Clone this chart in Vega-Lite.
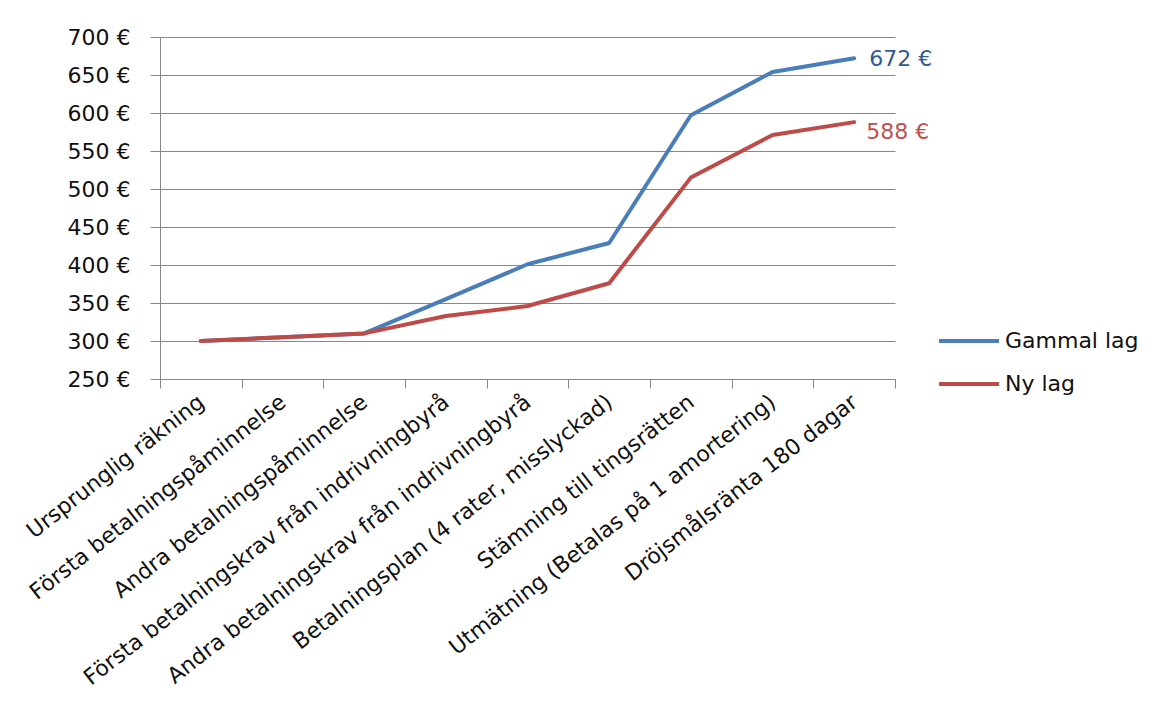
{
  "$schema": "https://vega.github.io/schema/vega-lite/v6.json",
  "autosize": {"type": "none"},
  "width": 735,
  "height": 342,
  "padding": {"left": 160, "top": 37, "right": 273, "bottom": 330},
  "background": "white",
  "config": {
    "view": {"stroke": null},
    "font": "DejaVu Sans",
    "axis": {"labelFont": "DejaVu Sans", "labelColor": "#111", "domainColor": "#888", "tickColor": "#888", "gridColor": "#888", "domainWidth": 1, "tickWidth": 1, "gridWidth": 1}
  },
  "data": {
    "values": [
      {"step": "Ursprunglig räkning", "lag": "Gammal lag", "value": 300},
      {"step": "Första betalningspåminnelse", "lag": "Gammal lag", "value": 305},
      {"step": "Andra betalningspåminnelse", "lag": "Gammal lag", "value": 310},
      {"step": "Första betalningskrav från indrivningbyrå", "lag": "Gammal lag", "value": 355},
      {"step": "Andra betalningskrav från indrivningbyrå", "lag": "Gammal lag", "value": 401},
      {"step": "Betalningsplan (4 rater, misslyckad)", "lag": "Gammal lag", "value": 429},
      {"step": "Stämning till tingsrätten", "lag": "Gammal lag", "value": 597},
      {"step": "Utmätning (Betalas på 1 amortering)", "lag": "Gammal lag", "value": 654},
      {"step": "Dröjsmålsränta 180 dagar", "lag": "Gammal lag", "value": 672},
      {"step": "Ursprunglig räkning", "lag": "Ny lag", "value": 300},
      {"step": "Första betalningspåminnelse", "lag": "Ny lag", "value": 305},
      {"step": "Andra betalningspåminnelse", "lag": "Ny lag", "value": 310},
      {"step": "Första betalningskrav från indrivningbyrå", "lag": "Ny lag", "value": 333},
      {"step": "Andra betalningskrav från indrivningbyrå", "lag": "Ny lag", "value": 346},
      {"step": "Betalningsplan (4 rater, misslyckad)", "lag": "Ny lag", "value": 376},
      {"step": "Stämning till tingsrätten", "lag": "Ny lag", "value": 515},
      {"step": "Utmätning (Betalas på 1 amortering)", "lag": "Ny lag", "value": 571},
      {"step": "Dröjsmålsränta 180 dagar", "lag": "Ny lag", "value": 588}
    ]
  },
  "encoding": {
    "x": {
      "field": "step", "type": "nominal", "sort": null, "title": null,
      "axis": {"labelAngle": -38, "labelAlign": "right", "labelBaseline": "middle", "labelFontSize": 22, "labelPadding": 11, "tickSize": 9, "tickBand": "extent", "labelLimit": 600, "grid": false}
    },
    "y": {
      "field": "value", "type": "quantitative", "title": null,
      "scale": {"domain": [250, 700], "nice": false, "zero": false},
      "axis": {"values": [250, 300, 350, 400, 450, 500, 550, 600, 650, 700], "labelExpr": "datum.value + ' €'", "labelFontSize": 22, "tickSize": 10, "labelPadding": 20, "grid": true}
    }
  },
  "layer": [
    {
      "mark": {"type": "line", "strokeWidth": 4, "strokeCap": "round", "strokeJoin": "round"},
      "encoding": {
        "color": {
          "field": "lag", "type": "nominal",
          "scale": {"domain": ["Gammal lag", "Ny lag"], "range": ["#4a7ebb", "#be4b48"]},
          "legend": {"title": null, "orient": "none", "legendX": 777, "legendY": 292, "symbolType": "stroke", "symbolSize": 3600, "symbolStrokeWidth": 4, "labelFontSize": 22, "labelColor": "#111", "labelOffset": 4, "clipHeight": 24, "rowPadding": 19}
        }
      }
    },
    {
      "transform": [{"filter": "datum.step == 'Dröjsmålsränta 180 dagar' && datum.lag == 'Gammal lag'"}],
      "mark": {"type": "text", "align": "left", "baseline": "middle", "dx": 15, "dy": 1, "fontSize": 22, "color": "#2e5b95"},
      "encoding": {"text": {"value": "672 €"}}
    },
    {
      "transform": [{"filter": "datum.step == 'Dröjsmålsränta 180 dagar' && datum.lag == 'Ny lag'"}],
      "mark": {"type": "text", "align": "left", "baseline": "middle", "dx": 12, "dy": 10, "fontSize": 22, "color": "#c0504d"},
      "encoding": {"text": {"value": "588 €"}}
    }
  ]
}
